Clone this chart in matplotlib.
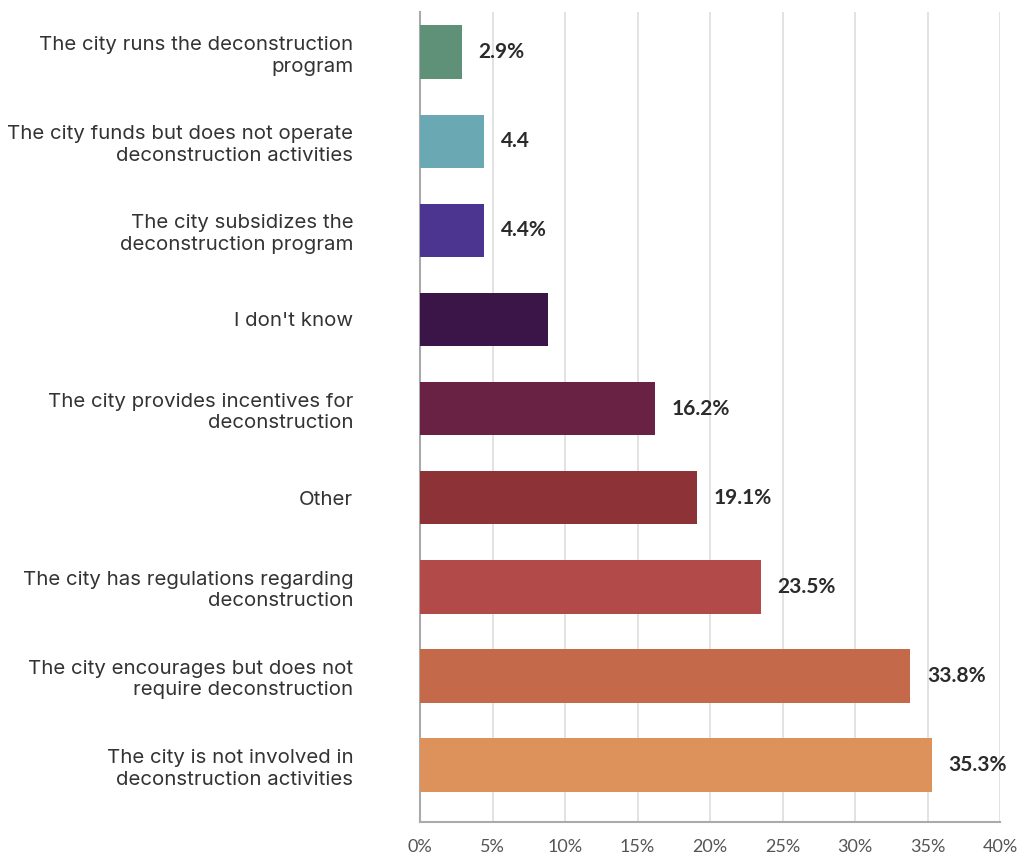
import matplotlib.pyplot as plt

categories = [
    "The city runs the deconstruction\nprogram",
    "The city funds but does not operate\ndeconstruction activities",
    "The city subsidizes the\ndeconstruction program",
    "I don't know",
    "The city provides incentives for\ndeconstruction",
    "Other",
    "The city has regulations regarding\ndeconstruction",
    "The city encourages but does not\nrequire deconstruction",
    "The city is not involved in\ndeconstruction activities",
]
values = [2.9, 4.4, 4.4, 8.8, 16.2, 19.1, 23.5, 33.8, 35.3]
value_labels = ["2.9%", "4.4", "4.4%", "", "16.2%", "19.1%", "23.5%", "33.8%", "35.3%"]
colors = ["#5e9178", "#6aa8b4", "#4b3590", "#3b1548", "#6a2244",
          "#8d3237", "#b24a4a", "#c4694a", "#dd925c"]
xticks = [0, 5, 10, 15, 20, 25, 30, 35, 40]

fig = plt.figure(figsize=(10.32, 8.59), dpi=100)
ax = fig.add_axes([0.407, 0.043, 0.562, 0.943])

pos = list(range(len(categories)))
ax.barh(pos, values, height=0.6, color=colors, zorder=3)

for p, v, lab in zip(pos, values, value_labels):
    if lab:
        ax.annotate(lab, (v, p), xytext=(12, 0), textcoords="offset points",
                    va="center", ha="left", fontsize=15, fontweight="bold",
                    color="#2b2b2b", family="Lato")

ax.set_yticks(pos)
ax.set_yticklabels(categories, fontsize=14.7, color="#333333", family="Inter",
                   linespacing=1.25)
ax.set_ylim(8.64, -0.45)
ax.set_xlim(0, 40)
ax.set_xticks(xticks)
ax.set_xticklabels([f"{t}%" for t in xticks], fontsize=13, color="#555555",
                   family="Lato")
ax.tick_params(axis="both", length=0)
ax.tick_params(axis="x", pad=12)
ax.tick_params(axis="y", pad=48)

ax.grid(axis="x", color="#dddddd", linewidth=1.2, zorder=0)
for s in ["top", "right"]:
    ax.spines[s].set_visible(False)
for s in ["left", "bottom"]:
    ax.spines[s].set_color("#aaaaaa")
    ax.spines[s].set_linewidth(1.5)

fig.savefig("out.png", dpi=100)
